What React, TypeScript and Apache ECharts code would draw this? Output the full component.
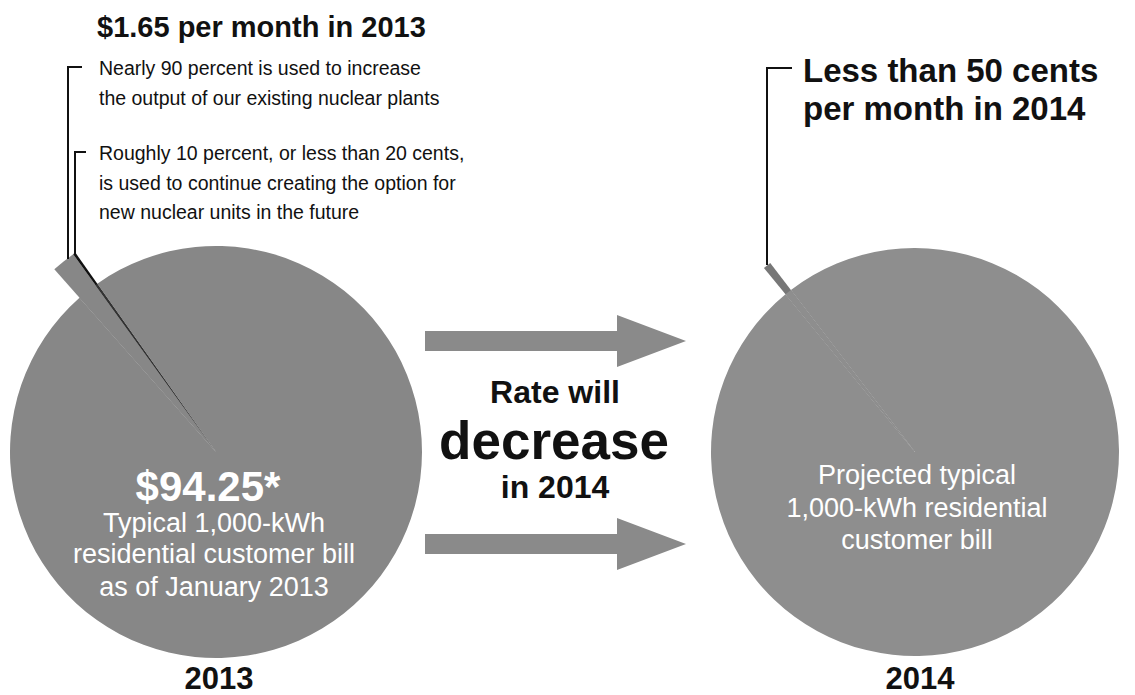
import React, { useEffect, useRef } from "react";
import * as echarts from "echarts";

// ---- data ----
const yearLabels = ["2013", "2014"];
const bill2013 = 94.25; // typical 1,000-kWh residential bill, Jan 2013
const nuclearCost2013 = 1.65; // per month in 2013
const nuclearShares = [0.9, 0.1]; // existing plants uprate, new units option
const nuclearCost2014 = 0.5; // less than 50 cents per month in 2014
const bill2014 = 93.1; // projected typical bill (estimate, not printed)

const FONT = "'Liberation Sans', Arial, Helvetica, sans-serif";
const INK = "#111111";
const GRAY_L = "#878787";
const GRAY_R = "#8e8e8e";
const GRAY_A = "#8a8a8a";

export default function App() {
  const ref = useRef<HTMLDivElement>(null);
  useEffect(() => {
    document.body.style.margin = "0";
    const chart = echarts.init(ref.current!, null, { renderer: "svg" });

    const existing = nuclearCost2013 * nuclearShares[0];
    const newUnits = nuclearCost2013 * nuclearShares[1];
    const rest2013 = bill2013 - nuclearCost2013;
    const rest2014 = bill2014 - nuclearCost2014;

    const pieBase = {
      type: "pie",
      clockwise: true,
      silent: true,
      label: { show: false },
      labelLine: { show: false },
      emphasis: { disabled: true },
      itemStyle: { borderWidth: 0 },
    };

    const txt = (
      text: string,
      x: number,
      y: number,
      size: number,
      weight: string,
      fill: string,
      align: string = "left"
    ) => ({
      type: "text",
      x,
      y,
      silent: true,
      z: 10,
      style: {
        text,
        fill,
        font: `${weight} ${size}px ${FONT}`,
        textAlign: align,
        textVerticalAlign: "middle",
      },
    });

    const arrow = (cy: number) => ({
      type: "polygon",
      silent: true,
      shape: {
        points: [
          [425, cy - 10],
          [617, cy - 10],
          [617, cy - 26],
          [686, cy],
          [617, cy + 26],
          [617, cy + 10],
          [425, cy + 10],
        ],
      },
      style: { fill: GRAY_A },
    });

    const line = (pts: number[][]) => ({
      type: "polyline",
      silent: true,
      z: 5,
      shape: { points: pts },
      style: { stroke: INK, lineWidth: 2, fill: "none" },
    });

    chart.setOption({
      animation: false,
      backgroundColor: "#ffffff",
      series: [
        {
          ...pieBase,
          name: "2013 extended",
          center: [216, 452],
          radius: [0, 244],
          startAngle: 131.5,
          z: 1,
          data: [
            { name: "Existing plants", value: existing, itemStyle: { color: GRAY_L } },
            { name: "New units option", value: newUnits, itemStyle: { color: INK } },
            { name: "Rest of bill", value: rest2013, itemStyle: { color: "transparent" } },
          ],
        },
        {
          ...pieBase,
          name: "2013",
          center: [216, 452],
          radius: [0, 206],
          startAngle: 131.5,
          z: 2,
          data: [
            { name: "Existing plants", value: existing, itemStyle: { color: GRAY_L } },
            { name: "New units option", value: newUnits, itemStyle: { color: "#333" } },
            { name: "Rest of bill", value: rest2013, itemStyle: { color: GRAY_L } },
          ],
        },
        {
          ...pieBase,
          name: "2014 extended",
          center: [915, 452],
          radius: [0, 238],
          startAngle: 129.4,
          z: 1,
          data: [
            { name: "Nuclear cost", value: nuclearCost2014, itemStyle: { color: "#777777" } },
            { name: "Rest of bill", value: rest2014, itemStyle: { color: "transparent" } },
          ],
        },
        {
          ...pieBase,
          name: "2014",
          center: [915, 452],
          radius: [0, 204],
          startAngle: 129.4,
          z: 2,
          data: [
            { name: "Nuclear cost", value: nuclearCost2014, itemStyle: { color: GRAY_R } },
            { name: "Rest of bill", value: rest2014, itemStyle: { color: GRAY_R } },
          ],
        },
      ],
      graphic: [
        arrow(341),
        arrow(544),
        line([[82, 67], [68, 67], [68, 259]]),
        line([[86, 152], [75, 152], [75, 254]]),
        line([[792, 68], [767, 68], [767, 265]]),
        txt(`$${nuclearCost2013.toFixed(2)} per month in ${yearLabels[0]}`, 97, 27, 29, "bold", INK),
        txt(`Nearly ${Math.round(nuclearShares[0] * 100)} percent is used to increase`, 99, 68, 19.5, "normal", INK),
        txt("the output of our existing nuclear plants", 99, 98, 19.5, "normal", INK),
        txt(`Roughly ${Math.round(nuclearShares[1] * 100)} percent, or less than 20 cents,`, 99, 153, 19.5, "normal", INK),
        txt("is used to continue creating the option for", 99, 183, 19.5, "normal", INK),
        txt("new nuclear units in the future", 99, 212, 19.5, "normal", INK),
        txt(`Less than ${Math.round(nuclearCost2014 * 100)} cents`, 803, 70, 33, "bold", INK),
        txt(`per month in ${yearLabels[1]}`, 803, 108, 33, "bold", INK),
        txt("Rate will", 555, 392, 32, "bold", INK, "center"),
        txt("decrease", 554, 440, 53, "bold", INK, "center"),
        txt(`in ${yearLabels[1]}`, 555, 487, 32, "bold", INK, "center"),
        txt(`$${bill2013.toFixed(2)}*`, 208, 486, 42, "bold", "#ffffff", "center"),
        txt("Typical 1,000-kWh", 214, 523, 27, "normal", "#ffffff", "center"),
        txt("residential customer bill", 214, 554, 27, "normal", "#ffffff", "center"),
        txt(`as of January ${yearLabels[0]}`, 214, 587, 27, "normal", "#ffffff", "center"),
        txt("Projected typical", 917, 475, 27, "normal", "#ffffff", "center"),
        txt("1,000-kWh residential", 917, 508, 27, "normal", "#ffffff", "center"),
        txt("customer bill", 917, 540, 27, "normal", "#ffffff", "center"),
        txt(yearLabels[0], 219, 678, 31, "bold", INK, "center"),
        txt(yearLabels[1], 920, 678, 31, "bold", INK, "center"),
      ],
    });
    return () => chart.dispose();
  }, []);
  return <div ref={ref} style={{ width: 1135, height: 695 }} />;
}
